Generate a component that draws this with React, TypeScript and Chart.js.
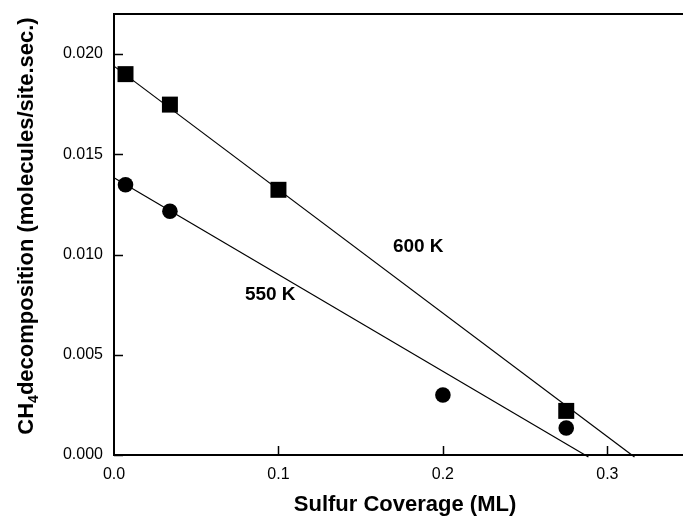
import React, { useEffect, useRef } from "react";
import { Chart, registerables } from "chart.js";

Chart.register(...registerables);

const sq600X = [0.007, 0.034, 0.1, 0.275];
const sq600Y = [0.0190, 0.01748, 0.01323, 0.00220];
const ci550X = [0.007, 0.034, 0.2, 0.275];
const ci550Y = [0.01348, 0.01216, 0.00299, 0.00135];
const fit600X = [0, 0.3165];
const fit600Y = [0.0194, -0.0001];
const fit550X = [0, 0.2885];
const fit550Y = [0.01383, -0.0001];
const xTicks = [0, 0.1, 0.2, 0.3];
const yTicks = [0, 0.005, 0.01, 0.015, 0.02];
const seriesLabels = ["600 K", "550 K"];
const labelPosX = [0.185, 0.095];
const labelPosY = [0.0104, 0.0080];

const FONT = "'Liberation Sans', Arial, Helvetica, sans-serif";

const zip = (xs: number[], ys: number[]) => xs.map((x, i) => ({ x, y: ys[i] }));

const customPlugin = {
  id: "custom",
  afterLayout(chart: any) {
    const xs = chart.scales.x;
    chart.chartArea.right = chart.width;
    chart.chartArea.width = chart.chartArea.right - chart.chartArea.left;
    xs.right = chart.width;
    xs.width = xs.right - xs.left;
    xs.configure();
  },
  afterDraw(chart: any) {
    const ctx = chart.ctx as CanvasRenderingContext2D;
    const xs = chart.scales.x;
    const ys = chart.scales.y;
    const area = chart.chartArea;
    ctx.save();
    ctx.strokeStyle = "#000";
    ctx.lineWidth = 2;
    ctx.beginPath();
    ctx.moveTo(area.left - 1, area.top);
    ctx.lineTo(area.right, area.top);
    ctx.stroke();
    ctx.lineWidth = 1.5;
    for (const v of yTicks) {
      const py = Math.round(ys.getPixelForValue(v)) + 0.5;
      ctx.beginPath();
      ctx.moveTo(area.left, py);
      ctx.lineTo(area.left + 9, py);
      ctx.stroke();
    }
    for (const v of xTicks) {
      if (v === 0) continue;
      const px = Math.round(xs.getPixelForValue(v)) + 0.5;
      ctx.beginPath();
      ctx.moveTo(px, area.bottom);
      ctx.lineTo(px, area.bottom - 9);
      ctx.stroke();
    }
    ctx.fillStyle = "#000";
    ctx.font = `bold 19px ${FONT}`;
    ctx.textAlign = "center";
    ctx.textBaseline = "middle";
    seriesLabels.forEach((t, i) => {
      ctx.fillText(t, xs.getPixelForValue(labelPosX[i]), ys.getPixelForValue(labelPosY[i]));
    });
    ctx.font = `bold 22px ${FONT}`;
    ctx.textBaseline = "alphabetic";
    ctx.fillText("Sulfur Coverage (ML)", 405, 511);
    ctx.translate(33, 226);
    ctx.rotate(-Math.PI / 2);
    ctx.textAlign = "left";
    ctx.textBaseline = "alphabetic";
    const big = `bold 22px ${FONT}`;
    const small = `bold 14px ${FONT}`;
    const p1 = "CH";
    const p2 = "4";
    const p3 = "decomposition (molecules/site.sec.)";
    ctx.font = big;
    const w1 = ctx.measureText(p1).width;
    const w3 = ctx.measureText(p3).width;
    ctx.font = small;
    const w2 = ctx.measureText(p2).width;
    const total = w1 + w2 + w3;
    let cx = -total / 2;
    ctx.font = big;
    ctx.fillText(p1, cx, 0);
    cx += w1;
    ctx.font = small;
    ctx.fillText(p2, cx, 5);
    cx += w2;
    ctx.font = big;
    ctx.fillText(p3, cx, 0);
    ctx.restore();
  },
};

export default function App() {
  const ref = useRef<HTMLCanvasElement | null>(null);
  useEffect(() => {
    document.body.style.margin = "0";
    if (!ref.current) return;
    const chart = new Chart(ref.current, {
      type: "scatter",
      data: {
        datasets: [
          {
            label: "600 K fit",
            type: "line",
            data: zip(fit600X, fit600Y),
            borderColor: "#000",
            borderWidth: 1.2,
            pointRadius: 0,
            clip: false,
          } as any,
          {
            label: "550 K fit",
            type: "line",
            data: zip(fit550X, fit550Y),
            borderColor: "#000",
            borderWidth: 1.2,
            pointRadius: 0,
            clip: false,
          } as any,
          {
            label: "600 K",
            data: zip(sq600X, sq600Y),
            pointStyle: "rect",
            pointRadius: 11.3,
            backgroundColor: "#000",
            borderColor: "#000",
            borderWidth: 0,
            clip: false,
          } as any,
          {
            label: "550 K",
            data: zip(ci550X, ci550Y),
            pointStyle: "circle",
            pointRadius: 7.8,
            backgroundColor: "#000",
            borderColor: "#000",
            borderWidth: 0,
            clip: false,
          } as any,
        ],
      },
      options: {
        animation: false,
        responsive: false,
        maintainAspectRatio: false,
        layout: { padding: { top: 14, right: 0, left: 0, bottom: 0 } },
        plugins: { legend: { display: false }, tooltip: { enabled: false } },
        scales: {
          x: {
            type: "linear",
            min: 0,
            max: 0.346,
            grid: { display: false, drawTicks: false },
            border: { display: true, color: "#000", width: 2 },
            afterBuildTicks: (s: any) => {
              s.ticks = xTicks.map((v) => ({ value: v }));
            },
            afterFit: (s: any) => {
              s.height = 61;
              s.paddingLeft = 0;
              s.paddingRight = 0;
            },
            ticks: {
              padding: 10,
              color: "#000",
              font: { family: FONT, size: 16 },
              maxRotation: 0,
              callback: (v: any) => Number(v).toFixed(1),
            },
          },
          y: {
            type: "linear",
            min: 0,
            max: 0.022,
            grid: { display: false, drawTicks: false },
            border: { display: true, color: "#000", width: 2 },
            afterBuildTicks: (s: any) => {
              s.ticks = yTicks.map((v) => ({ value: v }));
            },
            afterFit: (s: any) => {
              s.width = 114;
              s.paddingTop = 0;
              s.paddingBottom = 0;
            },
            ticks: {
              padding: 11,
              color: "#000",
              font: { family: FONT, size: 16 },
              callback: (v: any) => Number(v).toFixed(3),
            },
          },
        },
      },
      plugins: [customPlugin],
    } as any);
    return () => chart.destroy();
  }, []);
  return (
    <div style={{ position: "fixed", left: 0, top: 0, width: 683, height: 516, background: "#fff" }}>
      <canvas ref={ref} width={683} height={516} style={{ width: 683, height: 516 }} />
    </div>
  );
}
